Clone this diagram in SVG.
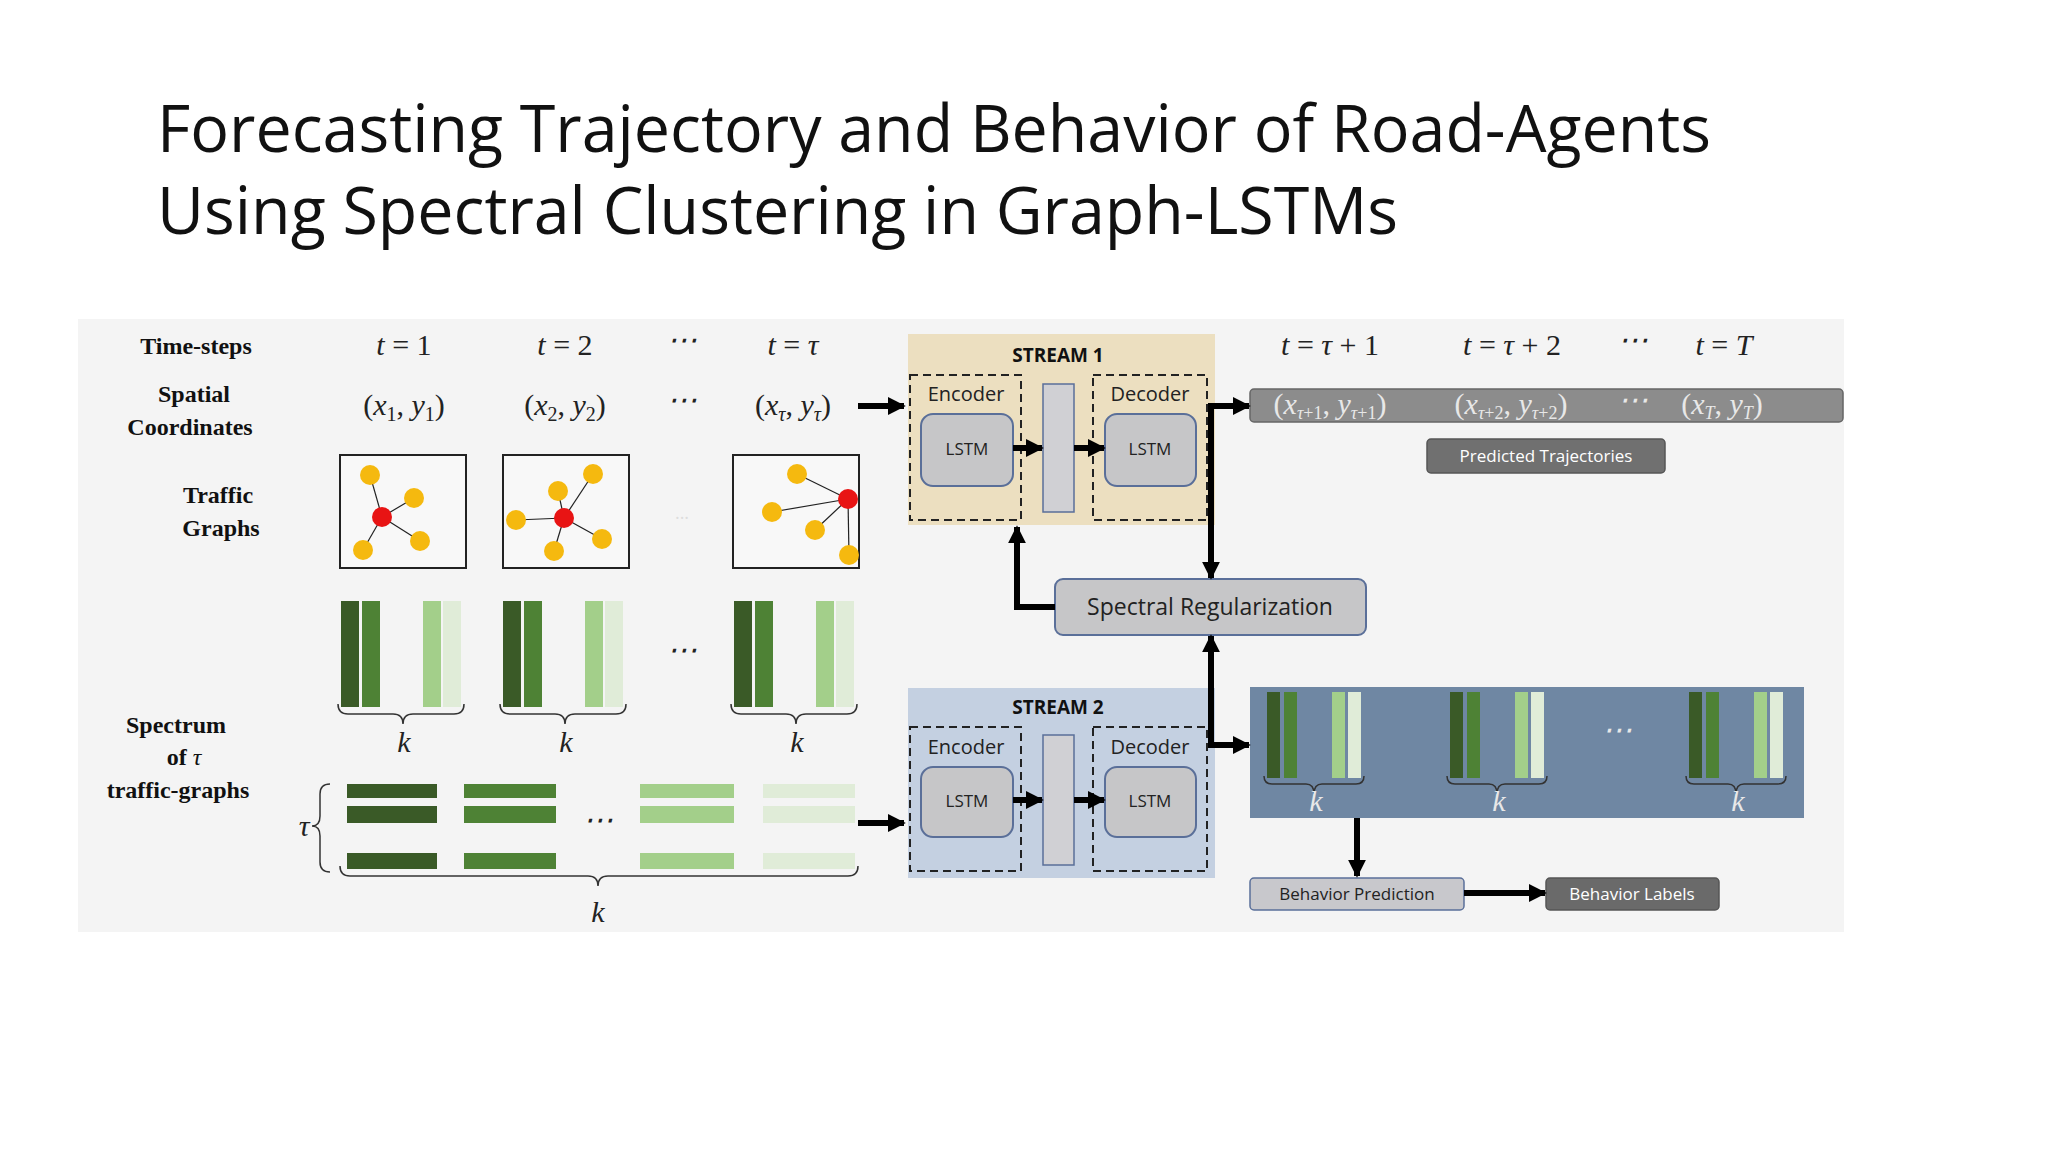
<svg xmlns="http://www.w3.org/2000/svg" width="2048" height="1152" viewBox="0 0 2048 1152">
<defs>
<style>
.title{font-family:"Open Sans","Liberation Sans",sans-serif;font-size:66px;fill:#111}
.lab{font-family:"Liberation Serif",serif;font-weight:bold;font-size:24px;fill:#111;text-anchor:middle}
.math{font-family:"Liberation Serif",serif;font-style:italic;font-size:30px;fill:#222;text-anchor:middle}
.mathw{font-family:"Liberation Serif",serif;font-style:italic;font-size:30px;fill:#e8e8e8;text-anchor:middle}
.sans{font-family:"Open Sans","Liberation Sans",sans-serif;text-anchor:middle}
.dash{fill:none;stroke:#222;stroke-width:2;stroke-dasharray:8 5}
.lstm{fill:#c6c6c8;stroke:#5a6f99;stroke-width:2}
.mid{fill:#d0d0d4;stroke:#5a6f99;stroke-width:1.5}
.conn{fill:none;stroke:#000;stroke-width:6}
.brace{fill:none;stroke:#333;stroke-width:1.5}
.c1{fill:#3a5a27}.c2{fill:#4e8235}.c3{fill:#a3cf8a}.c4{fill:#e0ecd8}
.y{fill:#f5b90f}.r{fill:#e81414}
.e{stroke:#222;stroke-width:1.2}
</style>
<marker id="ah" viewBox="0 0 10 10" refX="9" refY="5" markerWidth="3" markerHeight="3" orient="auto" markerUnits="strokeWidth"><path d="M0,0 L10,5 L0,10 z" fill="#000"/></marker>
</defs>
<rect width="2048" height="1152" fill="#fff"/>
<g id="title">
<text class="title" x="157" y="152" textLength="1554" lengthAdjust="spacingAndGlyphs">Forecasting Trajectory and Behavior of Road-Agents</text>
<text class="title" x="157" y="234" textLength="1241" lengthAdjust="spacingAndGlyphs">Using Spectral Clustering in Graph-LSTMs</text>
</g>
<rect x="78" y="319" width="1766" height="613" fill="#f4f4f4"/>
<g id="labels">
<text class="lab" x="196" y="354">Time-steps</text>
<text class="lab" x="194" y="402">Spatial</text>
<text class="lab" x="190" y="435">Coordinates</text>
<text class="lab" x="218" y="503">Traffic</text>
<text class="lab" x="221" y="536">Graphs</text>
<text class="lab" x="176" y="733">Spectrum</text>
<text class="lab" x="184" y="765">of <tspan font-style="italic" font-weight="normal">τ</tspan></text>
<text class="lab" x="178" y="798">traffic-graphs</text>
</g>
<g id="timesteps">
<text class="math" x="404" y="355">t <tspan font-style="normal">= 1</tspan></text>
<text class="math" x="565" y="355">t <tspan font-style="normal">= 2</tspan></text>
<text class="math" x="682" y="350">⋯</text>
<text class="math" x="793" y="355">t <tspan font-style="normal">=</tspan> τ</text>
<text class="math" x="404" y="415"><tspan font-style="normal">(</tspan>x<tspan font-size="20" font-style="normal" dy="6">1</tspan><tspan dy="-6" font-style="normal">, </tspan>y<tspan font-size="20" font-style="normal" dy="6">1</tspan><tspan dy="-6" font-style="normal">)</tspan></text>
<text class="math" x="565" y="415"><tspan font-style="normal">(</tspan>x<tspan font-size="20" font-style="normal" dy="6">2</tspan><tspan dy="-6" font-style="normal">, </tspan>y<tspan font-size="20" font-style="normal" dy="6">2</tspan><tspan dy="-6" font-style="normal">)</tspan></text>
<text class="math" x="682" y="410">⋯</text>
<text class="math" x="793" y="415"><tspan font-style="normal">(</tspan>x<tspan font-size="20" dy="6">τ</tspan><tspan dy="-6" font-style="normal">, </tspan>y<tspan font-size="20" dy="6">τ</tspan><tspan dy="-6" font-style="normal">)</tspan></text>
<text class="math" x="1330" y="355">t <tspan font-style="normal">=</tspan> τ <tspan font-style="normal">+ 1</tspan></text>
<text class="math" x="1512" y="355">t <tspan font-style="normal">=</tspan> τ <tspan font-style="normal">+ 2</tspan></text>
<text class="math" x="1633" y="350">⋯</text>
<text class="math" x="1724" y="355">t <tspan font-style="normal">=</tspan> T</text>
</g>
<g id="graphs">
<rect x="340" y="455" width="126" height="113" fill="#f8f8f8" stroke="#222" stroke-width="2"/>
<g class="e"><line x1="382" y1="517" x2="370" y2="475"/><line x1="382" y1="517" x2="414" y2="498"/><line x1="382" y1="517" x2="420" y2="541"/><line x1="382" y1="517" x2="363" y2="550"/></g>
<circle class="y" cx="370" cy="475" r="10"/><circle class="y" cx="414" cy="498" r="10"/><circle class="y" cx="420" cy="541" r="10"/><circle class="y" cx="363" cy="550" r="10"/><circle class="r" cx="382" cy="517" r="10"/>
<rect x="503" y="455" width="126" height="113" fill="#f8f8f8" stroke="#222" stroke-width="2"/>
<g class="e"><line x1="564" y1="518" x2="558" y2="491"/><line x1="564" y1="518" x2="593" y2="474"/><line x1="564" y1="518" x2="516" y2="520"/><line x1="564" y1="518" x2="554" y2="551"/><line x1="564" y1="518" x2="602" y2="539"/></g>
<circle class="y" cx="558" cy="491" r="10"/><circle class="y" cx="593" cy="474" r="10"/><circle class="y" cx="516" cy="520" r="10"/><circle class="y" cx="554" cy="551" r="10"/><circle class="y" cx="602" cy="539" r="10"/><circle class="r" cx="564" cy="518" r="10"/>
<text x="682" y="524" class="sans" font-size="18" fill="#ddd">···</text>
<rect x="733" y="455" width="126" height="113" fill="#f8f8f8" stroke="#222" stroke-width="2"/>
<g class="e"><line x1="848" y1="499" x2="797" y2="474"/><line x1="848" y1="499" x2="772" y2="512"/><line x1="848" y1="499" x2="815" y2="530"/><line x1="848" y1="499" x2="849" y2="555"/></g>
<circle class="y" cx="797" cy="474" r="10"/><circle class="y" cx="772" cy="512" r="10"/><circle class="y" cx="815" cy="530" r="10"/><circle class="y" cx="849" cy="555" r="10"/><circle class="r" cx="848" cy="499" r="10"/>
</g>
<g id="spectra">
<g><rect class="c1" x="341" y="601" width="18" height="106"/><rect class="c2" x="362" y="601" width="18" height="106"/><rect class="c3" x="423" y="601" width="18" height="106"/><rect class="c4" x="443" y="601" width="18" height="106"/>
<path class="brace" d="M338,704 q0,10 10,10 H393 q10,0 10,10 q0,-10 10,-10 H454 q10,0 10,-10"/><text class="math" x="404" y="752" font-size="26">k</text></g>
<g><rect class="c1" x="503" y="601" width="18" height="106"/><rect class="c2" x="524" y="601" width="18" height="106"/><rect class="c3" x="585" y="601" width="18" height="106"/><rect class="c4" x="605" y="601" width="18" height="106"/>
<path class="brace" d="M500,704 q0,10 10,10 H555 q10,0 10,10 q0,-10 10,-10 H616 q10,0 10,-10"/><text class="math" x="566" y="752" font-size="26">k</text></g>
<text class="math" x="682" y="660">⋯</text>
<g><rect class="c1" x="734" y="601" width="18" height="106"/><rect class="c2" x="755" y="601" width="18" height="106"/><rect class="c3" x="816" y="601" width="18" height="106"/><rect class="c4" x="836" y="601" width="18" height="106"/>
<path class="brace" d="M731,704 q0,10 10,10 H786 q10,0 10,10 q0,-10 10,-10 H847 q10,0 10,-10"/><text class="math" x="797" y="752" font-size="26">k</text></g>
</g>
<g id="matrix">
<rect class="c1" x="347" y="784" width="90" height="14"/><rect class="c1" x="347" y="806" width="90" height="17"/><rect class="c1" x="347" y="853" width="90" height="16"/>
<rect class="c2" x="464" y="784" width="92" height="14"/><rect class="c2" x="464" y="806" width="92" height="17"/><rect class="c2" x="464" y="853" width="92" height="16"/>
<rect class="c3" x="640" y="784" width="94" height="14"/><rect class="c3" x="640" y="806" width="94" height="17"/><rect class="c3" x="640" y="853" width="94" height="16"/>
<rect class="c4" x="763" y="784" width="92" height="14"/><rect class="c4" x="763" y="806" width="92" height="17"/><rect class="c4" x="763" y="853" width="92" height="16"/>
<text class="math" x="598" y="830">⋯</text>
<text class="math" x="304" y="836">τ</text>
<path class="brace" d="M330,784 q-10,0 -10,10 V816 q0,10 -8,10 q8,0 8,10 V862 q0,10 10,10"/>
<path class="brace" d="M340,866 q0,10 10,10 H588 q10,0 10,10 q0,-10 10,-10 H848 q10,0 10,-10"/>
<text class="math" x="598" y="922" font-size="26">k</text>
</g>
<g id="stream1">
<rect x="908" y="334" width="307" height="191" fill="#ecdfc0"/>
<text class="sans" x="1058" y="362" font-size="19" font-weight="bold" fill="#111">STREAM 1</text>
<rect class="dash" x="910" y="375" width="111" height="145"/>
<rect class="dash" x="1093" y="375" width="114" height="145"/>
<text class="sans" x="966" y="401" font-size="20" fill="#222">Encoder</text>
<text class="sans" x="1150" y="401" font-size="20" fill="#222">Decoder</text>
<rect class="lstm" x="921" y="414" width="92" height="72" rx="12"/>
<rect class="lstm" x="1105" y="414" width="91" height="72" rx="12"/>
<text class="sans" x="967" y="455" font-size="17" fill="#222">LSTM</text>
<text class="sans" x="1150" y="455" font-size="17" fill="#222">LSTM</text>
<rect class="mid" x="1043" y="384" width="31" height="128"/>
</g>
<g id="stream2">
<rect x="908" y="688" width="307" height="190" fill="#c4d0e1"/>
<text class="sans" x="1058" y="714" font-size="19" font-weight="bold" fill="#111">STREAM 2</text>
<rect class="dash" x="910" y="727" width="111" height="144"/>
<rect class="dash" x="1093" y="727" width="114" height="144"/>
<text class="sans" x="966" y="754" font-size="20" fill="#222">Encoder</text>
<text class="sans" x="1150" y="754" font-size="20" fill="#222">Decoder</text>
<rect class="lstm" x="921" y="767" width="92" height="70" rx="12"/>
<rect class="lstm" x="1105" y="767" width="91" height="70" rx="12"/>
<text class="sans" x="967" y="807" font-size="17" fill="#222">LSTM</text>
<text class="sans" x="1150" y="807" font-size="17" fill="#222">LSTM</text>
<rect class="mid" x="1043" y="735" width="31" height="130"/>
</g>
<g id="spectral-reg">
<rect x="1055" y="579" width="311" height="56" rx="8" fill="#c6c6c8" stroke="#5a6f99" stroke-width="2"/>
<text class="sans" x="1210" y="615" font-size="23" fill="#222">Spectral Regularization</text>
</g>
<g id="predicted">
<rect x="1250" y="389" width="593" height="33" rx="4" fill="#8c8c8c" stroke="#666" stroke-width="1.5"/>
<text class="mathw" x="1330" y="414" font-size="28"><tspan font-style="normal">(</tspan>x<tspan font-size="18" dy="5">τ<tspan font-style="normal">+1</tspan></tspan><tspan dy="-5" font-style="normal">, </tspan>y<tspan font-size="18" dy="5">τ<tspan font-style="normal">+1</tspan></tspan><tspan dy="-5" font-style="normal">)</tspan></text>
<text class="mathw" x="1511" y="414" font-size="28"><tspan font-style="normal">(</tspan>x<tspan font-size="18" dy="5">τ<tspan font-style="normal">+2</tspan></tspan><tspan dy="-5" font-style="normal">, </tspan>y<tspan font-size="18" dy="5">τ<tspan font-style="normal">+2</tspan></tspan><tspan dy="-5" font-style="normal">)</tspan></text>
<text class="mathw" x="1633" y="410" font-size="28">⋯</text>
<text class="mathw" x="1722" y="414" font-size="28"><tspan font-style="normal">(</tspan>x<tspan font-size="18" dy="5">T</tspan><tspan dy="-5" font-style="normal">, </tspan>y<tspan font-size="18" dy="5">T</tspan><tspan dy="-5" font-style="normal">)</tspan></text>
</g>
<g id="predicted-trajectories">
<rect x="1427" y="439" width="238" height="34" rx="4" fill="#707070" stroke="#555" stroke-width="1.5"/>
<text class="sans" x="1546" y="462" font-size="17" fill="#fff">Predicted Trajectories</text>
</g>
<g id="behavior-spectra">
<rect x="1250" y="687" width="554" height="131" fill="#6f87a3"/>
<g><rect class="c1" x="1267" y="692" width="13" height="86"/><rect class="c2" x="1284" y="692" width="13" height="86"/><rect class="c3" x="1332" y="692" width="13" height="86"/><rect class="c4" x="1348" y="692" width="13" height="86"/>
<path class="brace" stroke="#e8e8e8" d="M1264,776 q0,8 8,8 H1306 q8,0 8,10 q0,-10 8,-10 H1356 q8,0 8,-8"/><text class="mathw" x="1316" y="811" font-size="22">k</text></g>
<g><rect class="c1" x="1450" y="692" width="13" height="86"/><rect class="c2" x="1467" y="692" width="13" height="86"/><rect class="c3" x="1515" y="692" width="13" height="86"/><rect class="c4" x="1531" y="692" width="13" height="86"/>
<path class="brace" stroke="#e8e8e8" d="M1447,776 q0,8 8,8 H1489 q8,0 8,10 q0,-10 8,-10 H1539 q8,0 8,-8"/><text class="mathw" x="1499" y="811" font-size="22">k</text></g>
<text class="mathw" x="1617" y="740" font-size="24">⋯</text>
<g><rect class="c1" x="1689" y="692" width="13" height="86"/><rect class="c2" x="1706" y="692" width="13" height="86"/><rect class="c3" x="1754" y="692" width="13" height="86"/><rect class="c4" x="1770" y="692" width="13" height="86"/>
<path class="brace" stroke="#e8e8e8" d="M1686,776 q0,8 8,8 H1728 q8,0 8,10 q0,-10 8,-10 H1778 q8,0 8,-8"/><text class="mathw" x="1738" y="811" font-size="22">k</text></g>
</g>
<g id="behavior-prediction">
<rect x="1250" y="878" width="214" height="32" rx="4" fill="#c8c8cc" stroke="#5a6f99" stroke-width="1.5"/>
<text class="sans" x="1357" y="900" font-size="17" fill="#222">Behavior Prediction</text>
</g>
<g id="behavior-labels">
<rect x="1546" y="878" width="173" height="32" rx="4" fill="#6a6a6a" stroke="#555" stroke-width="1.5"/>
<text class="sans" x="1632" y="900" font-size="17" fill="#fff">Behavior Labels</text>
</g>
<g id="connectors">
<line class="conn" x1="858" y1="406" x2="904" y2="406" marker-end="url(#ah)"/>
<line class="conn" x1="858" y1="823" x2="904" y2="823" marker-end="url(#ah)"/>
<line class="conn" x1="1013" y1="448" x2="1042" y2="448" marker-end="url(#ah)"/>
<line class="conn" x1="1074" y1="448" x2="1104" y2="448" marker-end="url(#ah)"/>
<line class="conn" x1="1013" y1="800" x2="1042" y2="800" marker-end="url(#ah)"/>
<line class="conn" x1="1074" y1="800" x2="1104" y2="800" marker-end="url(#ah)"/>
<line class="conn" x1="1211" y1="406" x2="1249" y2="406" marker-end="url(#ah)"/>
<line class="conn" x1="1211" y1="403" x2="1211" y2="578" marker-end="url(#ah)"/>
<polyline class="conn" points="1055,607 1017,607 1017,527" marker-end="url(#ah)"/>
<line class="conn" x1="1211" y1="748" x2="1211" y2="636" marker-end="url(#ah)"/>
<line class="conn" x1="1211" y1="745" x2="1249" y2="745" marker-end="url(#ah)"/>
<line class="conn" x1="1357" y1="818" x2="1357" y2="876" marker-end="url(#ah)"/>
<line class="conn" x1="1464" y1="893" x2="1545" y2="893" marker-end="url(#ah)"/>
</g>
</svg>
